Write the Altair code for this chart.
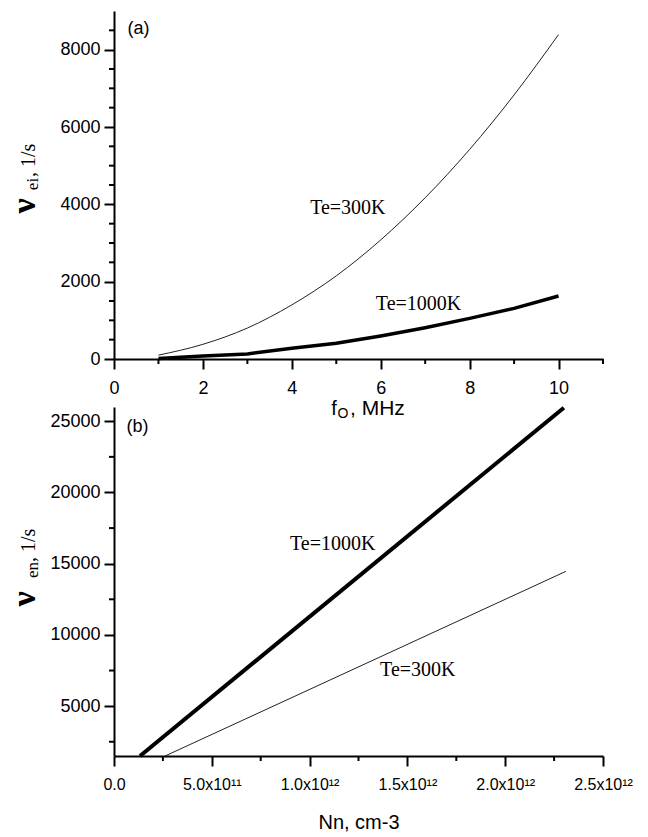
import altair as alt
import pandas as pd

# ---------------- data: panel (a) ----------------
fo_mhz = [1, 2, 3, 4, 5, 6, 7, 8, 9, 10]
nu_ei_300 = [100, 380, 800, 1400, 2150, 3080, 4170, 5420, 6830, 8390]
nu_ei_1000 = [10, 75, 130, 280, 405, 595, 810, 1050, 1310, 1630]

# ---------------- data: panel (b) ----------------
nn_1000 = [1.33e11, 2.30e12]
nu_en_1000 = [1500, 25950]
nn_300 = [2.61e11, 2.31e12]
nu_en_300 = [1500, 14460]

# annotations
ann_a_text = ["Te=300K", "Te=1000K"]
ann_a_x = [5.26, 6.85]
ann_a_y = [3900, 1420]
ann_b_text = ["Te=1000K", "Te=300K"]
ann_b_x = [1.118e12, 1.553e12]
ann_b_y = [16400, 7525]
tag_a = ["(a)"]
tag_a_x = [0.55]
tag_a_y = [8530]
tag_b = ["(b)"]
tag_b_x = [1.2e11]
tag_b_y = [24630]

# ticks
xa_major = [0, 2, 4, 6, 8, 10]
xa_minor = [1, 3, 5, 7, 9, 11]
ya_major = [0, 2000, 4000, 6000, 8000]
ya_minor = [500, 1000, 1500, 2500, 3000, 3500, 4500, 5000, 5500, 6500, 7000, 7500, 8500]
xb_major = [0, 5e11, 1e12, 1.5e12, 2e12, 2.5e12]
xb_labels = ["0.0", "5.0x10\u00b9\u00b9", "1.0x10\u00b9\u00b2", "1.5x10\u00b9\u00b2", "2.0x10\u00b9\u00b2", "2.5x10\u00b9\u00b2"]
xb_minor = [2.5e11, 7.5e11, 1.25e12, 1.75e12, 2.25e12]
yb_major = [5000, 10000, 15000, 20000, 25000]
yb_minor = [2500, 7500, 12500, 17500, 22500]

W, HA, HB = 489, 348, 349
SANS = "Liberation Sans"
SERIF = "Liberation Serif"


def major_axis(orient, values, size=18, pad=4, **kw):
    opts = dict(orient=orient, values=values, tickSize=10, labelPadding=pad, grid=False,
                labelFlush=False, labelOverlap=False, labelFontSize=size)
    if "title" not in kw:
        opts["title"] = None
    opts.update(kw)
    return alt.Axis(**opts)


def minor_x(values, scale, h):
    return alt.Chart(pd.DataFrame({"v": values})).mark_rule(color="black", strokeWidth=2).encode(
        x=alt.X("v:Q", scale=scale, axis=None), y=alt.value(h), y2=alt.value(h + 5))


def minor_y(values, scale):
    return alt.Chart(pd.DataFrame({"v": values})).mark_rule(color="black", strokeWidth=2).encode(
        y=alt.Y("v:Q", scale=scale, axis=None), x=alt.value(0), x2=alt.value(-5))


def piece(text, x, y, size, font, weight="normal", angle=0, align="center", baseline="alphabetic"):
    return alt.Chart(pd.DataFrame({"t": [text]})).mark_text(
        font=font, fontSize=size, fontWeight=weight, angle=angle, align=align,
        baseline=baseline, color="black"
    ).encode(x=alt.value(x), y=alt.value(y), text="t:N")


# ---------------- panel (a) ----------------
xa = alt.Scale(domain=[0, 11], nice=False, zero=False)
ya = alt.Scale(domain=[0, 9000], nice=False, zero=False)

a300 = alt.Chart(pd.DataFrame({"f": fo_mhz, "v": nu_ei_300})).mark_line(
    color="#222222", strokeWidth=1, interpolate="monotone").encode(
    x=alt.X("f:Q", scale=xa, axis=major_axis("bottom", xa_major, pad=10, format="d")),
    y=alt.Y("v:Q", scale=ya, axis=major_axis("left", ya_major, format="d")))
a1000 = alt.Chart(pd.DataFrame({"f": fo_mhz, "v": nu_ei_1000})).mark_line(
    color="black", strokeWidth=3.5).encode(
    x=alt.X("f:Q", scale=xa, axis=None),
    y=alt.Y("v:Q", scale=ya, axis=None))
ann_a = alt.Chart(pd.DataFrame({"x": ann_a_x, "y": ann_a_y, "t": ann_a_text})).mark_text(
    font=SERIF, fontSize=20, color="black").encode(
    x=alt.X("x:Q", scale=xa, axis=None), y=alt.Y("y:Q", scale=ya, axis=None), text="t:N")
tag_a_l = alt.Chart(pd.DataFrame({"x": tag_a_x, "y": tag_a_y, "t": tag_a})).mark_text(
    font=SANS, fontSize=18, color="black").encode(
    x=alt.X("x:Q", scale=xa, axis=None), y=alt.Y("y:Q", scale=ya, axis=None), text="t:N")

ytitle_a = [
    piece("\u03bd", -79, 195, 34, SERIF, weight="bold", angle=270),
    piece("ei", -76, 173, 17, SERIF, angle=270),
    piece(", 1/s", -79, 166, 20, SERIF, angle=270, align="left"),
]
xtitle_a = [
    piece("f", 220, 404, 20, SANS),
    piece("O", 229, 407, 14, SANS),
    piece(", MHz", 236, 404, 21, SANS, align="left"),
]

panel_a = alt.layer(a300, a1000, minor_x(xa_minor, xa, HA), minor_y(ya_minor, ya),
                    ann_a, tag_a_l, *ytitle_a, *xtitle_a).resolve_axis(
    x="independent", y="independent").properties(width=W, height=HA)

# ---------------- panel (b) ----------------
xb = alt.Scale(domain=[0, 2.5e12], nice=False, zero=False)
yb = alt.Scale(domain=[1500, 26000], nice=False, zero=False)

label_expr = "[" + ",".join("'" + s + "'" for s in xb_labels) + "][indexof([" + \
    ",".join(repr(v) for v in xb_major) + "], datum.value)]"

b1000 = alt.Chart(pd.DataFrame({"n": nn_1000, "v": nu_en_1000})).mark_line(
    color="black", strokeWidth=4).encode(
    x=alt.X("n:Q", scale=xb, axis=major_axis("bottom", xb_major, size=16, pad=10,
                                             labelExpr=label_expr, title="Nn, cm-3",
                                             titleFont=SANS, titleFontSize=20,
                                             titleFontWeight="normal",
                                             titleBaseline="alphabetic", titleY=72)),
    y=alt.Y("v:Q", scale=yb, axis=major_axis("left", yb_major, format="d")))
b300 = alt.Chart(pd.DataFrame({"n": nn_300, "v": nu_en_300})).mark_line(
    color="#222222", strokeWidth=1).encode(
    x=alt.X("n:Q", scale=xb, axis=None),
    y=alt.Y("v:Q", scale=yb, axis=None))
ann_b = alt.Chart(pd.DataFrame({"x": ann_b_x, "y": ann_b_y, "t": ann_b_text})).mark_text(
    font=SERIF, fontSize=20, color="black").encode(
    x=alt.X("x:Q", scale=xb, axis=None), y=alt.Y("y:Q", scale=yb, axis=None), text="t:N")
tag_b_l = alt.Chart(pd.DataFrame({"x": tag_b_x, "y": tag_b_y, "t": tag_b})).mark_text(
    font=SANS, fontSize=18, color="black").encode(
    x=alt.X("x:Q", scale=xb, axis=None), y=alt.Y("y:Q", scale=yb, axis=None), text="t:N")

ytitle_b = [
    piece("\u03bd", -79, 192, 34, SERIF, weight="bold", angle=270),
    piece("en", -76, 163, 17, SERIF, angle=270),
    piece(", 1/s", -79, 155, 20, SERIF, angle=270, align="left"),
]

panel_b = alt.layer(b1000, b300, minor_x(xb_minor, xb, HB), minor_y(yb_minor, yb),
                    ann_b, tag_b_l, *ytitle_b).resolve_axis(
    x="independent", y="independent").properties(width=W, height=HB)

chart = alt.vconcat(panel_a, panel_b, spacing=48, bounds="flush").properties(
    padding={"left": 8, "top": 11, "right": 5, "bottom": 5}
).configure_view(strokeWidth=0).configure_axis(
    labelFont=SANS, labelColor="black", domainColor="black", tickColor="black",
    domainWidth=2, tickWidth=2
)

chart.save("out.html", embed_options={"renderer": "svg", "actions": False})
